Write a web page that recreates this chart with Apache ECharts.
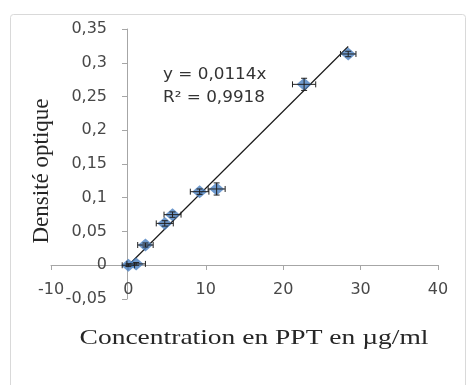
<!DOCTYPE html>
<html>
<head>
<meta charset="utf-8">
<script src="https://cdn.jsdelivr.net/npm/echarts@6/dist/echarts.min.js"></script>
<style>
html,body{margin:0;padding:0;background:#fff;}
#c{width:467px;height:385px;}
</style>
</head>
<body>
<div id="c"></div>
<script>
// Data
var concX = [0, 1, 2.2, 4.7, 5.7, 9.2, 11.4, 22.7, 28.4];
var densY = [0, 0.002, 0.03, 0.062, 0.075, 0.109, 0.113, 0.268, 0.313];
var errX = [0.8, 1.2, 1.0, 1.1, 1.1, 1.2, 1.1, 1.5, 1.0];
var errY = [0.002, 0.002, 0.003, 0.004, 0.004, 0.004, 0.009, 0.009, 0.004];
var trendX = [0, 28.4];
var trendY = [0, 0.324];
var equationText = 'y = 0,0114x';
var r2Text = 'R² = 0,9918';
var xTitle = 'Concentration en PPT en µg/ml';
var yTitle = 'Densité optique';

function fmt(v) {
  return String(+(+v).toFixed(2)).replace('.', ',');
}

var pts = concX.map(function (x, i) { return [x, densY[i]]; });
var errData = concX.map(function (x, i) { return [x, densY[i], errX[i], errY[i]]; });
var trendData = trendX.map(function (x, i) { return [x, trendY[i]]; });

var chart = echarts.init(document.getElementById('c'), null, {renderer: 'canvas'});
var axisColor = '#a6a6a6';
var labelColor = '#484848';
var labelFont = 'DejaVu Sans';

chart.setOption({
  animation: false,
  backgroundColor: '#ffffff',
  grid: {left: 51, right: 29, top: 29, bottom: 86, containLabel: false, outerBoundsMode: 'none'},
  xAxis: {
    type: 'value', min: -10, max: 40, interval: 10, position: 'bottom', offset: -34,
    axisLine: {show: true, onZero: false, lineStyle: {color: axisColor, width: 1}},
    axisTick: {show: true, length: 5, inside: false, lineStyle: {color: axisColor}},
    splitLine: {show: false},
    axisLabel: {color: labelColor, fontFamily: labelFont, fontSize: 16, margin: 17, formatter: fmt, hideOverlap: false}
  },
  yAxis: {
    type: 'value', min: -0.05, max: 0.35, interval: 0.05, position: 'left', offset: -76,
    axisLine: {show: true, onZero: false, lineStyle: {color: axisColor, width: 1}},
    axisTick: {show: true, length: 5, inside: false, lineStyle: {color: axisColor}},
    splitLine: {show: false},
    axisLabel: {color: labelColor, fontFamily: labelFont, fontSize: 16, margin: 20, formatter: fmt, hideOverlap: false}
  },
  series: [
    {
      type: 'line', data: trendData, symbol: 'none', z: 2,
      lineStyle: {color: '#1a1a1a', width: 1.2}
    },
    {
      type: 'scatter', data: pts, symbol: 'diamond', symbolSize: [15, 13], z: 3,
      itemStyle: {color: '#4a7fc1'}
    },
    {
      type: 'custom', data: errData, z: 4,
      renderItem: function (params, api) {
        var x = api.value(0), y = api.value(1), ex = api.value(2), ey = api.value(3);
        var l = api.coord([x - ex, y]);
        var r = api.coord([x + ex, y]);
        var t = api.coord([x, y + ey]);
        var b = api.coord([x, y - ey]);
        var cap = 3;
        var st = {stroke: '#222', lineWidth: 1};
        return {
          type: 'group',
          children: [
            {type: 'line', shape: {x1: l[0], y1: l[1], x2: r[0], y2: r[1]}, style: st},
            {type: 'line', shape: {x1: l[0], y1: l[1] - cap, x2: l[0], y2: l[1] + cap}, style: st},
            {type: 'line', shape: {x1: r[0], y1: r[1] - cap, x2: r[0], y2: r[1] + cap}, style: st},
            {type: 'line', shape: {x1: t[0], y1: t[1], x2: b[0], y2: b[1]}, style: st},
            {type: 'line', shape: {x1: t[0] - cap, y1: t[1], x2: t[0] + cap, y2: t[1]}, style: st},
            {type: 'line', shape: {x1: b[0] - cap, y1: b[1], x2: b[0] + cap, y2: b[1]}, style: st}
          ]
        };
      }
    }
  ],
  graphic: [
    {
      type: 'rect', left: 8, top: 12, z: -10, silent: true,
      shape: {width: 455, height: 390, r: 3},
      style: {fill: 'none', stroke: '#d9d9d9', lineWidth: 1}
    },
    {
      type: 'text', x: 163, y: 75, scaleX: 1.05, z: 10,
      style: {text: equationText, fill: '#333333', font: '16px "DejaVu Sans"', textVerticalAlign: 'middle', verticalAlign: 'middle'}
    },
    {
      type: 'text', x: 163, y: 98, scaleX: 1.05, z: 10,
      style: {text: r2Text, fill: '#333333', font: '16px "DejaVu Sans"', textVerticalAlign: 'middle', verticalAlign: 'middle'}
    },
    {
      type: 'text', x: 254, y: 338, scaleX: 1.25, z: 10,
      style: {text: xTitle, fill: '#262626', font: '22px "Liberation Serif"', textAlign: 'center', align: 'center', textVerticalAlign: 'middle', verticalAlign: 'middle'}
    },
    {
      type: 'text', x: 42, y: 171, rotation: Math.PI / 2, z: 10,
      style: {text: yTitle, fill: '#262626', font: '23px "Liberation Serif"', textAlign: 'center', align: 'center', textVerticalAlign: 'middle', verticalAlign: 'middle'}
    }
  ]
});
</script>
</body>
</html>
